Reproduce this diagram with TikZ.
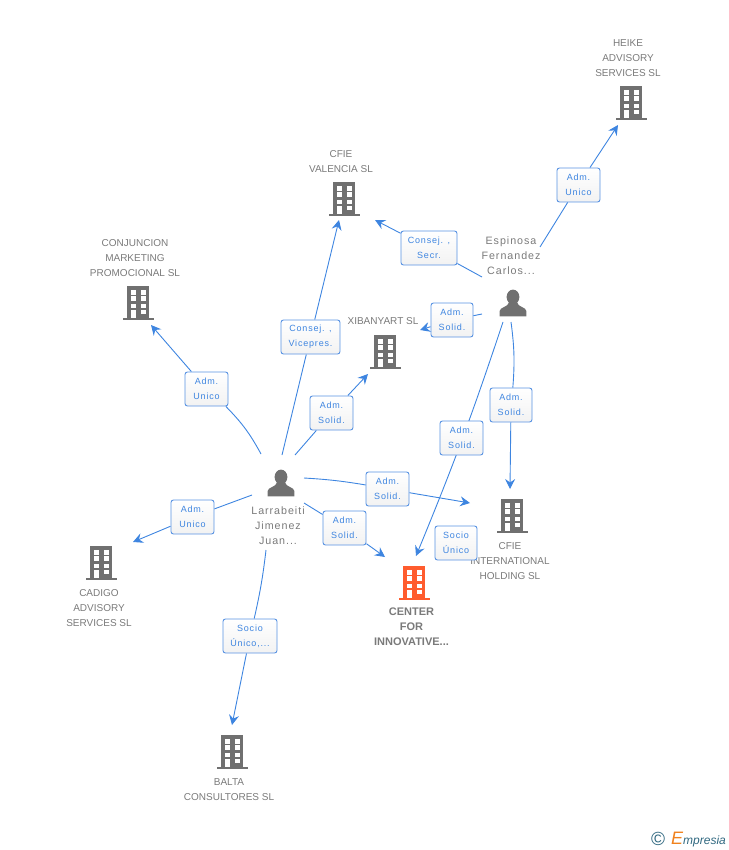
\documentclass[tikz,border=0pt]{standalone}
\usepackage{fontspec}
\setmainfont{Liberation Sans}
\newfontfamily\relfont[LetterSpace=9]{Liberation Sans}
\usetikzlibrary{arrows.meta,positioning,shadings}
\definecolor{linkblue}{RGB}{62,133,224}
\definecolor{boxblue}{RGB}{88,146,226}
\definecolor{icongrey}{RGB}{112,112,112}
\definecolor{labelgrey}{RGB}{122,122,122}
\definecolor{mainorange}{RGB}{255,92,46}
\definecolor{logoteal}{RGB}{48,104,128}
\definecolor{logoorange}{RGB}{240,130,30}
\tikzset{
  % bloque con ventanas
  building/.pic={
    \fill[pic actions] (-11.3,-16.7) rectangle (11.3,15.5);
    \fill[pic actions] (-15.3,15.2) rectangle (15.5,17);
    \foreach \wx in {-7,2.5} \foreach \wy in {-12.7,-6.7,0.7} {
      \fill[white] (\wx,\wy) rectangle ++(5,4.5);
    }
    \fill[white] (2.5,6.7) rectangle ++(5,4.6);
    \fill[white] (-7,6.7) rectangle ++(5,8.5);
  },
  % persona
  person/.pic={
    \fill[pic actions] (0,-6) ellipse (6.4 and 7.4);
    \fill[pic actions] (-13.3,13.4) -- (-13.3,8) .. controls (-13.3,4) and (-5,4.5) .. (-3.8,-1)
      -- (3.8,-1) .. controls (5,4.5) and (13.3,4) .. (13.3,8) -- (13.3,13.4) -- cycle;
  },
  % relacion
  relbox/.style={
    draw=boxblue, line width=0.9pt, rounded corners=2.5pt,
    top color=white, bottom color=black!5,
    minimum height=34pt, inner sep=0pt,
    text=linkblue, align=center,
    font=\fontsize{9}{15}\selectfont\relfont
  },
  nametext/.style={
    text=labelgrey, align=center, inner sep=0pt,
    font=\fontsize{10}{15}\selectfont
  },
  link/.style={linkblue, line width=0.9pt},
  arr/.style={link, -{Stealth[length=10pt,width=10pt,inset=3.5pt]}},
}
\begin{document}
\begin{tikzpicture}[x=1pt,y=-1pt]
  \useasboundingbox (0,0) rectangle (728,850);

  % Icons
  \pic[icongrey] at (631,103) {building};
  \pic[icongrey] at (344,199) {building};
  \pic[icongrey] at (138,303) {building};
  \pic[icongrey] at (385,352) {building};
  \pic[icongrey] at (512,516) {building};
  \pic[mainorange] at (414,583) {building};
  \pic[icongrey] at (101,563) {building};
  \pic[icongrey] at (232,752) {building};
  \pic[icongrey] at (513,303) {person};
  \pic[icongrey] at (281,483) {person};

  % Names
  \node[nametext] (heike) at (628,57.7) {HEIKE\\ADVISORY\\SERVICES SL};
  \node[nametext] (valencia) at (341,161.2) {CFIE\\VALENCIA SL};
  \node[nametext] (conjuncion) at (135,257.7) {CONJUNCION\\MARKETING\\PROMOCIONAL SL};
  \node[nametext] (xibanyart) at (383,321.5) {XIBANYART SL};
  \node[nametext] (holding) at (510,560.7) {CFIE\\INTERNATIONAL\\HOLDING  SL};
  \node[nametext, font=\fontsize{11}{15}\selectfont\bfseries] (center) at (411.5,626.7) {CENTER\\FOR\\INNOVATIVE...};
  \node[nametext] (cadigo) at (99,607.7) {CADIGO\\ADVISORY\\SERVICES SL};
  \node[nametext] (balta) at (229,789.2) {BALTA\\CONSULTORES SL};
  \node[nametext, font=\fontsize{10.7}{15}\selectfont\relfont] (espinosa) at (511,255.5) {Espinosa\\Fernandez\\Carlos...};
  \node[nametext, font=\fontsize{10.7}{15}\selectfont\relfont] (larrabeiti) at (278,526) {Larrabeiti\\Jimenez\\Juan...};

  % Free ends
  \coordinate (e1) at (540,247);
  \coordinate (e2) at (482,277);
  \coordinate (e3) at (482,314);
  \coordinate (e4) at (511,322);
  \coordinate (e5) at (503,322);
  \coordinate (l1) at (304,478);
  \coordinate (l2) at (304,503);
  \coordinate (l3) at (295,455);
  \coordinate (l4) at (282,455);
  \coordinate (l5) at (261,454);
  \coordinate (l6) at (252,495);
  \coordinate (l7) at (266,550);
  \coordinate (toheike) at (618,125);
  \coordinate (tovalencia1) at (375,220);
  \coordinate (tovalencia2) at (339,220);
  \coordinate (toxibanyart1) at (420,330);
  \coordinate (toxibanyart2) at (368,374);
  \coordinate (toholding1) at (510,489);
  \coordinate (toholding2) at (470,503);
  \coordinate (tocenter1) at (416,556);
  \coordinate (tocenter2) at (385,557);
  \coordinate (toconjuncion) at (151,325);
  \coordinate (tocadigo) at (133,542);
  \coordinate (tobalta) at (232,725);

  % Straight link under its box
  \draw[arr] (e5) to[bend left=2] (tocenter1);

  % Relations
  \node[relbox, minimum width=43pt] (r1) at (578.5,185) {Adm.\\Unico};
  \node[relbox, minimum width=56pt] (r2) at (429,248) {Consej. ,\\Secr.};
  \node[relbox, minimum width=42pt] (r3) at (452,320) {Adm.\\Solid.};
  \node[relbox, minimum width=42pt] (r4) at (511,405) {Adm.\\Solid.};
  \node[relbox, minimum width=43pt] (r5) at (461.5,438) {Adm.\\Solid.};
  \node[relbox, minimum width=42pt] (r6) at (456,543) {Socio\\Único};
  \node[relbox, minimum width=43pt] (r7) at (387.5,489) {Adm.\\Solid.};
  \node[relbox, minimum width=43pt] (r8) at (344.5,528) {Adm.\\Solid.};
  \node[relbox, minimum width=43pt] (r9) at (331.5,413) {Adm.\\Solid.};
  \node[relbox, minimum width=59pt] (r10) at (310.5,337) {Consej. ,\\Vicepres.};
  \node[relbox, minimum width=43pt] (r11) at (206.5,389) {Adm.\\Unico};
  \node[relbox, minimum width=43pt] (r12) at (192.5,517) {Adm.\\Unico};
  \node[relbox, minimum width=54pt] (r13) at (250,636) {Socio\\Único,...};

  % From Espinosa
  \draw[link] (e1) -- (r1);
  \draw[arr] (r1) -- (toheike);
  \draw[link] (e2) -- (r2);
  \draw[arr] (r2) -- (tovalencia1);
  \draw[link] (e3) -- (r3);
  \draw[arr] (r3) -- (toxibanyart1);
  \draw[link] (e4) to[bend left=6] (r4);
  \draw[arr] (r4) -- (toholding1);

  % From Larrabeiti
  \draw[link] (l1) to[bend left=3] (r7);
  \draw[arr] (r7) -- (toholding2);
  \draw[link] (l2) -- (r8);
  \draw[arr] (r8) -- (tocenter2);
  \draw[link] (l3) -- (r9);
  \draw[arr] (r9) -- (toxibanyart2);
  \draw[link] (l4) -- (r10);
  \draw[arr] (r10) -- (tovalencia2);
  \draw[link] (l5) to[bend right=8] (r11);
  \draw[arr] (r11) -- (toconjuncion);
  \draw[link] (l6) -- (r12);
  \draw[arr] (r12) -- (tocadigo);
  \draw[link] (l7) to[bend left=3] (r13);
  \draw[arr] (r13) -- (tobalta);

  % Logo
  \node[inner sep=0pt, text=logoteal, font=\fontsize{19}{19}\selectfont] (logoc) at (658,839) {©};
  \node[inner sep=0pt, anchor=base west, font=\fontsize{12}{12}\selectfont\itshape, text=logoteal] (logot) at (671,844)
    {\textcolor{logoorange}{\fontsize{18}{18}\selectfont E}mpresia};
\end{tikzpicture}
\end{document}
